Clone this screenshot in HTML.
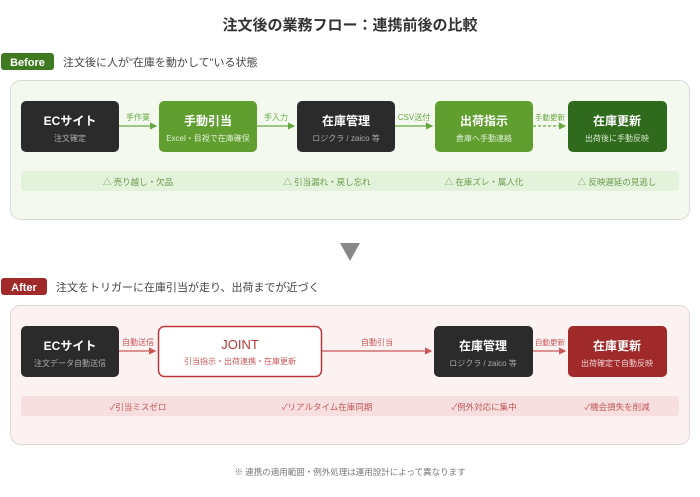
<!DOCTYPE html>
<html><head><meta charset="utf-8"><style>
html,body{margin:0;padding:0;background:#fff;width:700px;height:497px;overflow:hidden}
svg text{font-family:"Liberation Sans","Noto Sans CJK JP",sans-serif}
</style></head><body>
<svg width="700" height="497" viewBox="0 0 700 497" xmlns="http://www.w3.org/2000/svg">
<defs>
<marker id="ag" markerWidth="6" markerHeight="6" refX="5" refY="3" orient="auto"><path d="M0,0 L6,3 L0,6 Z" fill="#6aa843"/></marker>
<marker id="ar" markerWidth="6" markerHeight="6" refX="5" refY="3" orient="auto"><path d="M0,0 L6,3 L0,6 Z" fill="#c8585a"/></marker>
</defs>
<text x="350" y="30" text-anchor="middle" font-size="15" font-weight="bold" fill="#333">注文後の業務フロー：連携前後の比較</text>

<!-- Before -->
<rect x="1" y="53" width="53" height="17" rx="3" fill="#3f7a22"/>
<text x="27.5" y="66" text-anchor="middle" font-size="11" font-weight="bold" fill="#fff">Before</text>
<text x="63" y="66" font-size="11" fill="#444">注文後に人が"在庫を動かして"いる状態</text>
<rect x="10.5" y="80.5" width="679" height="139" rx="10" fill="#f3f9ef" stroke="#d8dcd6"/>

<rect x="21" y="101" width="98" height="51" rx="5" fill="#2b2b2b"/>
<text x="70" y="125" text-anchor="middle" font-size="12" font-weight="bold" fill="#fff">ECサイト</text>
<text x="70" y="141" text-anchor="middle" font-size="8" fill="#aaa">注文確定</text>

<rect x="159" y="101" width="98" height="51" rx="5" fill="#5f9e2f"/>
<text x="208" y="125" text-anchor="middle" font-size="12" font-weight="bold" fill="#fff">手動引当</text>
<text x="208" y="141" text-anchor="middle" font-size="8" fill="#e2f0d6">Excel・目視で在庫確保</text>

<rect x="297" y="101" width="98" height="51" rx="5" fill="#2b2b2b"/>
<text x="346" y="125" text-anchor="middle" font-size="12" font-weight="bold" fill="#fff">在庫管理</text>
<text x="346" y="141" text-anchor="middle" font-size="8" fill="#aaa">ロジクラ / zaico 等</text>

<rect x="435" y="101" width="98" height="51" rx="5" fill="#5f9e2f"/>
<text x="484" y="125" text-anchor="middle" font-size="12" font-weight="bold" fill="#fff">出荷指示</text>
<text x="484" y="141" text-anchor="middle" font-size="8" fill="#e2f0d6">倉庫へ手動連絡</text>

<rect x="568" y="101" width="99" height="51" rx="5" fill="#2f6a1d"/>
<text x="617" y="125" text-anchor="middle" font-size="12" font-weight="bold" fill="#fff">在庫更新</text>
<text x="617" y="141" text-anchor="middle" font-size="8" fill="#d6e8cc">出荷後に手動反映</text>

<line x1="119" y1="126" x2="156" y2="126" stroke="#6aa843" stroke-width="1.2" marker-end="url(#ag)"/>
<text x="138" y="120" text-anchor="middle" font-size="8" fill="#6aa843">手作業</text>
<line x1="257" y1="126" x2="294" y2="126" stroke="#6aa843" stroke-width="1.2" marker-end="url(#ag)"/>
<text x="276" y="120" text-anchor="middle" font-size="8" fill="#6aa843">手入力</text>
<line x1="395" y1="126" x2="432" y2="126" stroke="#6aa843" stroke-width="1.2" marker-end="url(#ag)"/>
<text x="414" y="120" text-anchor="middle" font-size="8" fill="#6aa843">CSV送付</text>
<line x1="533" y1="126" x2="565" y2="126" stroke="#6aa843" stroke-width="1.2" stroke-dasharray="3,2" marker-end="url(#ag)"/>
<text x="550" y="120" text-anchor="middle" font-size="7.5" fill="#6aa843">手動更新</text>

<rect x="21" y="171" width="658" height="20" rx="3" fill="#e3f2da"/>
<text x="138" y="185" text-anchor="middle" font-size="8.5" fill="#6a9a4a">△ 売り越し・欠品</text>
<text x="327" y="185" text-anchor="middle" font-size="8.5" fill="#6a9a4a">△ 引当漏れ・戻し忘れ</text>
<text x="484" y="185" text-anchor="middle" font-size="8.5" fill="#6a9a4a">△ 在庫ズレ・属人化</text>
<text x="617" y="185" text-anchor="middle" font-size="8.5" fill="#6a9a4a">△ 反映遅延の見逃し</text>

<path d="M340,243 L360,243 L350,261 Z" fill="#888"/>

<!-- After -->
<rect x="1" y="278" width="46" height="17" rx="3" fill="#a0292a"/>
<text x="24" y="291" text-anchor="middle" font-size="11" font-weight="bold" fill="#fff">After</text>
<text x="56" y="291" font-size="11" fill="#444">注文をトリガーに在庫引当が走り、出荷までが近づく</text>
<rect x="10.5" y="305.5" width="679" height="139" rx="10" fill="#fcf2f2" stroke="#ddd6d6"/>

<rect x="21" y="326" width="98" height="51" rx="5" fill="#2b2b2b"/>
<text x="70" y="350" text-anchor="middle" font-size="12" font-weight="bold" fill="#fff">ECサイト</text>
<text x="70" y="366" text-anchor="middle" font-size="8" fill="#aaa">注文データ自動送信</text>

<rect x="158.5" y="326.5" width="163" height="50" rx="6" fill="#fff" stroke="#b8393b" stroke-width="1.5"/>
<text x="240" y="349" text-anchor="middle" font-size="13" fill="#b8393b">JOINT</text>
<text x="240" y="364" text-anchor="middle" font-size="8" fill="#c8585a">引当指示・出荷連携・在庫更新</text>

<rect x="434" y="326" width="99" height="51" rx="5" fill="#2b2b2b"/>
<text x="483" y="350" text-anchor="middle" font-size="12" font-weight="bold" fill="#fff">在庫管理</text>
<text x="483" y="366" text-anchor="middle" font-size="8" fill="#aaa">ロジクラ / zaico 等</text>

<rect x="568" y="326" width="99" height="51" rx="5" fill="#a0292a"/>
<text x="617" y="350" text-anchor="middle" font-size="12" font-weight="bold" fill="#fff">在庫更新</text>
<text x="617" y="366" text-anchor="middle" font-size="8" fill="#f0d0d0">出荷確定で自動反映</text>

<line x1="119" y1="351" x2="155" y2="351" stroke="#c8585a" stroke-width="1.2" marker-end="url(#ar)"/>
<text x="138" y="345" text-anchor="middle" font-size="8" fill="#c8585a">自動送信</text>
<line x1="322" y1="351" x2="431" y2="351" stroke="#c8585a" stroke-width="1.2" marker-end="url(#ar)"/>
<text x="377" y="345" text-anchor="middle" font-size="8" fill="#c8585a">自動引当</text>
<line x1="533" y1="351" x2="565" y2="351" stroke="#c8585a" stroke-width="1.2" marker-end="url(#ar)"/>
<text x="550" y="345" text-anchor="middle" font-size="7.5" fill="#c8585a">自動更新</text>

<rect x="21" y="396" width="658" height="20" rx="3" fill="#f7dfdf"/>
<text x="138" y="410" text-anchor="middle" font-size="8.5" fill="#c0585a">✓引当ミスゼロ</text>
<text x="327" y="410" text-anchor="middle" font-size="8.5" fill="#c0585a">✓リアルタイム在庫同期</text>
<text x="484" y="410" text-anchor="middle" font-size="8.5" fill="#c0585a">✓例外対応に集中</text>
<text x="617" y="410" text-anchor="middle" font-size="8.5" fill="#c0585a">✓機会損失を削減</text>

<text x="350" y="475" text-anchor="middle" font-size="8.5" fill="#777">※ 連携の適用範囲・例外処理は運用設計によって異なります</text>
</svg>
</body></html>
